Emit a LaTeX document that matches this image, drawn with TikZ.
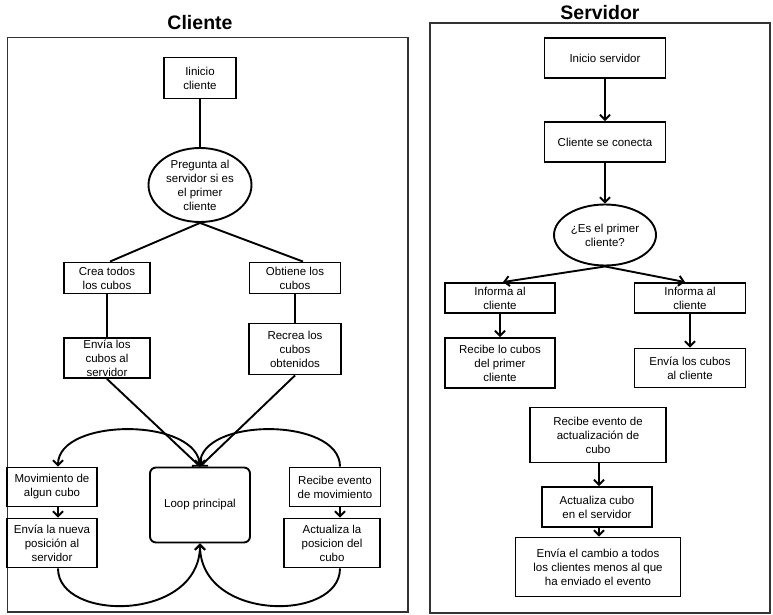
\documentclass[tikz,border=0pt]{standalone}
\usepackage{fontspec}
\setmainfont{Liberation Sans}
\usepackage{tikz}
\usetikzlibrary{shapes.geometric, arrows.meta}
\tikzset{
  box/.style={rectangle, draw=black, line width=1.9pt, fill=white, inner sep=0pt, align=center},
  oval/.style={ellipse, draw=black, line width=1.9pt, fill=white, inner sep=0pt, align=center},
  frame/.style={rectangle, draw=black!80, line width=1.9pt, inner sep=0pt},
  title/.style={font=\fontsize{19.5}{22}\selectfont\bfseries},
  arrow/.style={-{Straight Barb[length=5pt, width=10pt]}, line width=1.9pt},
  link/.style={line width=1.9pt},
}

\begin{document}
\begin{tikzpicture}[x=1pt, y=-1pt, font=\fontsize{11.5}{14}\selectfont]
\useasboundingbox (0,0) rectangle (773,615);

\node[frame, minimum width=400.5pt, minimum height=574.5pt] (cliframe) at (207.75,324.75) {};
\node[frame, minimum width=340pt, minimum height=590pt] (serframe) at (600,318) {};
\node[title] (clititle) at (200,23) {Cliente};
\node[title] (sertitle) at (600,12.5) {Servidor};

\node[box, minimum width=72pt, minimum height=41pt] (inicli) at (200,78) {Iinicio\\cliente};
\node[oval, minimum width=103pt, minimum height=74pt] (pregunta) at (200,185) {Pregunta al\\servidor si es\\el primer\\cliente};
\node[box, minimum width=86pt, minimum height=31pt] (crea) at (107,278) {Crea todos\\los cubos};
\node[box, minimum width=91pt, minimum height=31pt] (obtiene) at (295,278) {Obtiene los\\cubos};
\node[box, minimum width=86pt, minimum height=40pt] (envia) at (107,358) {Envía los\\cubos al\\servidor};
\node[box, minimum width=92pt, minimum height=51pt] (recrea) at (295,349) {Recrea los\\cubos\\obtenidos};
\node[box, rounded corners=6pt, minimum width=100pt, minimum height=75pt] (loop) at (200,505) {Loop principal};
\node[box, minimum width=90pt, minimum height=39pt] (movim) at (52,487) {Movimiento de\\algun cubo};
\node[box, minimum width=90pt, minimum height=49pt] (envnueva) at (52,543) {Envía la nueva\\posición al\\servidor};
\node[box, minimum width=91pt, minimum height=39pt] (recibe) at (335,487) {Recibe evento\\de movimiento};
\node[box, minimum width=96pt, minimum height=49pt] (actpos) at (332,543) {Actualiza la\\posicion del\\cubo};

\draw[link] (inicli) -- (pregunta);
\draw[link] (pregunta.south) -- ([xshift=3pt]crea.north);
\draw[link] (pregunta.south) -- ([xshift=8pt]obtiene.north);
\draw[link] (crea) -- (envia);
\draw[link] (obtiene) -- (recrea);
\draw[arrow] (envia.south) -- (loop.north);
\draw[arrow] (recrea.south) -- (loop.north);
\draw[arrow] (loop.north) .. controls (200,417) and (58,417) .. ([xshift=6pt]movim.north);
\draw[arrow] ([xshift=6pt]movim.south) -- ([xshift=6pt]envnueva.north);
\draw[arrow] ([xshift=6pt]envnueva.south) .. controls (58,622) and (200,622) .. (loop.south);
\draw[arrow] ([xshift=5pt]recibe.north) .. controls (340,417) and (200,417) .. (loop.north);
\draw[arrow] ([xshift=5pt]recibe.south) -- ([xshift=8pt]actpos.north);
\draw[arrow] ([xshift=8pt]actpos.south) .. controls (340,622) and (200,622) .. (loop.south);

\node[box, minimum width=121pt, minimum height=40pt] (iniser) at (605,58) {Inicio servidor};
\node[box, minimum width=121pt, minimum height=40pt] (conecta) at (605,142) {Cliente se conecta};
\node[oval, minimum width=102pt, minimum height=61pt] (primero) at (605,235) {¿Es el primer\\cliente?};
\node[box, minimum width=110pt, minimum height=30pt] (infizq) at (500,298) {Informa al\\cliente};
\node[box, minimum width=111pt, minimum height=30pt] (infder) at (690,298) {Informa al\\cliente};
\node[box, minimum width=110pt, minimum height=50pt] (recprim) at (500,363) {Recibe lo cubos\\del primer\\cliente};
\node[box, minimum width=111pt, minimum height=39pt] (envcli) at (690,368) {Envía los cubos\\al cliente};
\node[box, minimum width=136pt, minimum height=55pt] (recact) at (598,435) {Recibe evento de\\actualización de\\cubo};
\node[box, minimum width=110pt, minimum height=40pt] (actser) at (597,507) {Actualiza cubo\\en el servidor};
\node[box, minimum width=165pt, minimum height=59pt] (envcambio) at (598,567) {Envía el cambio a todos\\los clientes menos al que\\ha enviado el evento};

\draw[arrow] (iniser) -- (conecta);
\draw[arrow] (conecta) -- (primero);
\draw[arrow] (primero.south) -- ([xshift=3pt]infizq.north);
\draw[arrow] (primero.south) -- ([xshift=-5pt]infder.north);
\draw[arrow] (infizq) -- (recprim);
\draw[arrow] (infder) -- (envcli);
\draw[arrow] ([xshift=1pt]recact.south) -- ([xshift=2pt]actser.north);
\draw[arrow] ([xshift=2pt]actser.south) -- ([xshift=1pt]envcambio.north);
\end{tikzpicture}
\end{document}
